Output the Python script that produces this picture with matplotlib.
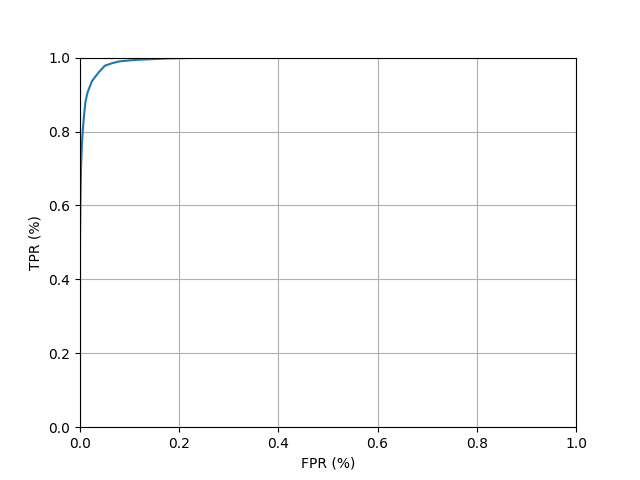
import matplotlib
matplotlib.use("Agg")
import matplotlib.pyplot as plt

fpr = [0.0, 0.0, 0.001, 0.002, 0.004, 0.0055, 0.008, 0.011, 0.015, 0.024, 0.037, 0.05, 0.065, 0.08, 0.114, 0.15, 0.18, 0.22, 0.27, 0.4, 0.6, 0.8, 1.0]
tpr = [0.0, 0.5, 0.62, 0.7, 0.77, 0.80, 0.842, 0.88, 0.905, 0.936, 0.959, 0.978, 0.985, 0.99, 0.994, 0.996, 0.998, 0.999, 1.0, 1.0, 1.0, 1.0, 1.0]

fig, ax = plt.subplots(figsize=(6.4, 4.8), dpi=100)
ax.plot(fpr, tpr, color="#1f77b4", linewidth=1.5)
ax.set_xlim(0, 1)
ax.set_ylim(0, 1)
ax.set_xlabel("FPR (%)")
ax.set_ylabel("TPR (%)")
ax.grid(True)
fig.savefig("out.png", dpi=100)
